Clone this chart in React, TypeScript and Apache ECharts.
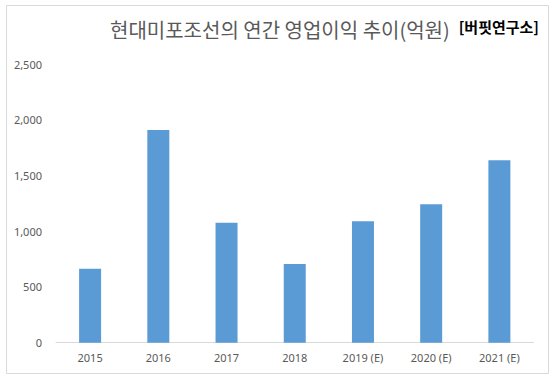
import React, { useEffect, useRef } from "react";
import * as echarts from "echarts";

const categories = ["2015", "2016", "2017", "2018", "2019 (E)", "2020 (E)", "2021 (E)"];
const profits = [663, 1909, 1075, 705, 1090, 1243, 1637];
const titleText = "현대미포조선의 연간 영업이익 추이(억원)";
const sourceText = "[버핏연구소]";

export default function App() {
  const ref = useRef<HTMLDivElement>(null);
  useEffect(() => {
    if (!ref.current) return;
    const chart = echarts.init(ref.current, null, { renderer: "svg" });
    chart.setOption({
      animation: false,
      backgroundColor: "#ffffff",
      title: {
        text: titleText,
        left: 105,
        top: 14,
        textStyle: {
          fontFamily: "Noto Sans CJK KR",
          fontSize: 20,
          fontWeight: "normal",
          color: "#595959",
        },
      },
      graphic: [
        {
          type: "rect",
          shape: { x: 6.5, y: 5.5, width: 542, height: 368 },
          style: { fill: "none", stroke: "#d9d9d9", lineWidth: 1 },
          silent: true,
        },
        {
          type: "text",
          right: 15,
          top: 19,
          style: {
            text: sourceText,
            font: "bold 15px 'Noto Sans CJK KR'",
            fill: "#000000",
          },
        },
      ],
      grid: { left: 56, right: 20.5, top: 64, bottom: 34.3, containLabel: false },
      xAxis: {
        type: "category",
        data: categories,
        axisLine: { show: true, lineStyle: { color: "#d9d9d9", width: 1 } },
        axisTick: { show: false },
        axisLabel: {
          color: "#595959",
          fontSize: 11,
          fontFamily: "Noto Sans, sans-serif",
          margin: 9,
        },
      },
      yAxis: {
        type: "value",
        min: 0,
        max: 2500,
        interval: 500,
        axisLine: { show: false },
        axisTick: { show: false },
        splitLine: { show: false },
        axisLabel: {
          color: "#595959",
          fontSize: 11,
          fontFamily: "Noto Sans, sans-serif",
          margin: 14,
          formatter: (v: number) => v.toLocaleString("en-US"),
        },
      },
      series: [
        {
          type: "bar",
          data: profits,
          barWidth: 22,
          itemStyle: { color: "#5b9bd5" },
        },
      ],
    });
    return () => chart.dispose();
  }, []);
  return (
    <div
      ref={ref}
      style={{ position: "fixed", left: 0, top: 0, width: 554, height: 377 }}
    />
  );
}
